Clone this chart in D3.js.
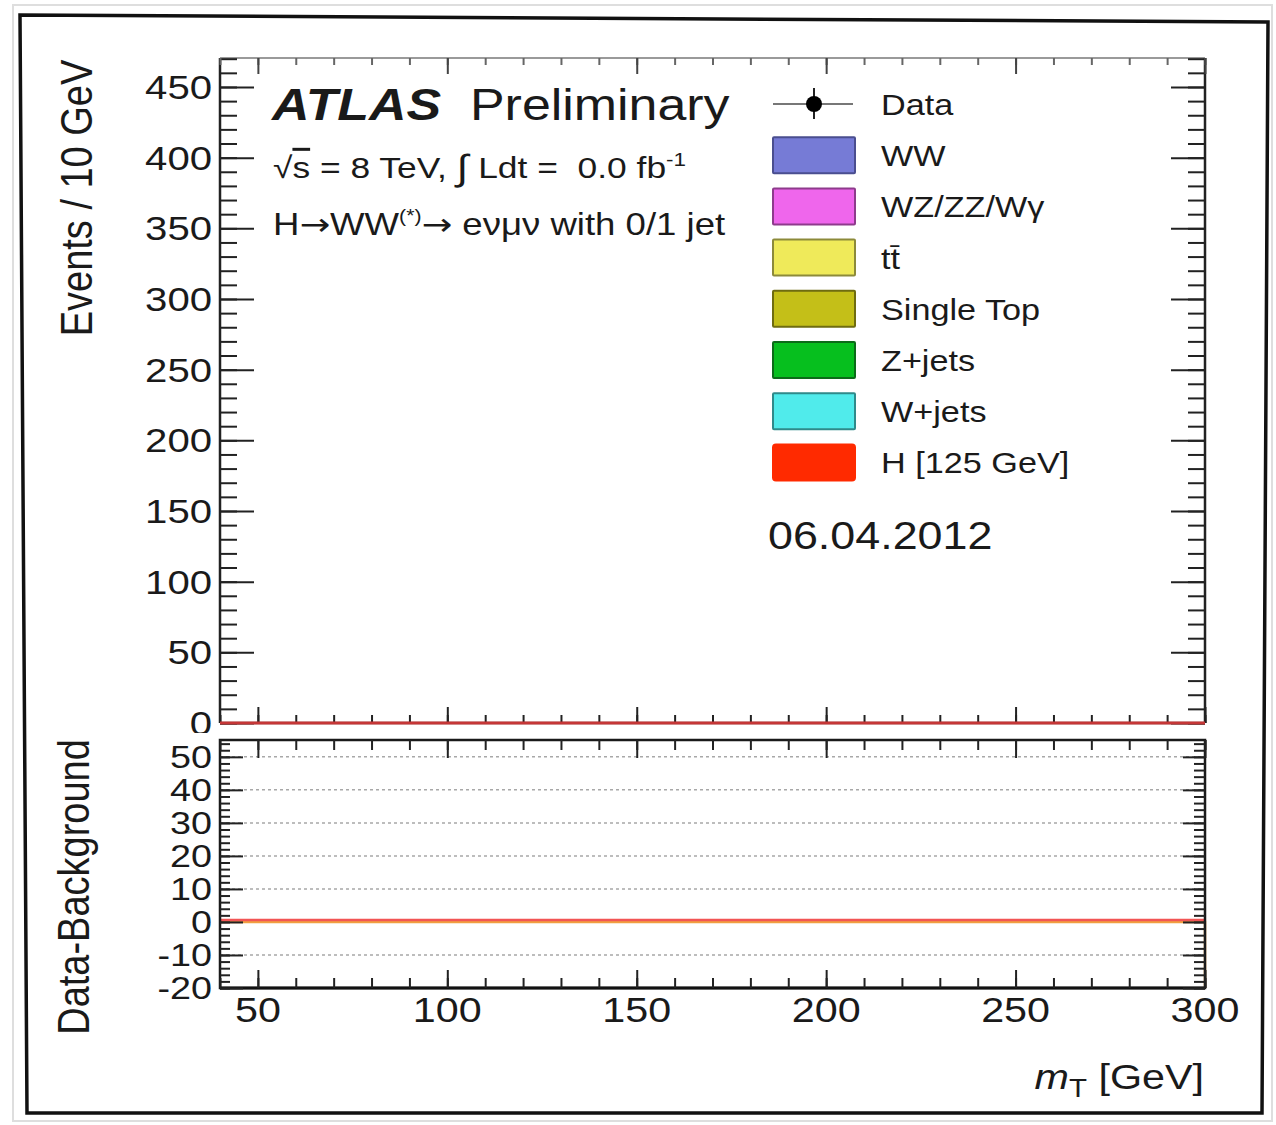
<!DOCTYPE html>
<html>
<head>
<meta charset="utf-8">
<script src="https://cdn.jsdelivr.net/npm/d3@7"></script>
<style>
  html, body { margin: 0; padding: 0; background: #fff; }
  svg { display: block; }
</style>
</head>
<body>
<svg id="chart" width="1276" height="1125"></svg>
<script>
// ---- binning: m_T in 10 GeV bins from 40 to 300 GeV ----
const binEdges = [40, 50, 60, 70, 80, 90, 100, 110, 120, 130, 140, 150, 160, 170, 180, 190, 200, 210, 220, 230, 240, 250, 260, 270, 280, 290, 300];

// ---- per-bin yields (events / 10 GeV), 0.0 fb^-1 ----
const dataCounts   = [0, 0, 0, 0, 0, 0, 0, 0, 0, 0, 0, 0, 0, 0, 0, 0, 0, 0, 0, 0, 0, 0, 0, 0, 0, 0];
const wwYield      = [0, 0, 0, 0, 0, 0, 0, 0, 0, 0, 0, 0, 0, 0, 0, 0, 0, 0, 0, 0, 0, 0, 0, 0, 0, 0];
const dibosonYield = [0, 0, 0, 0, 0, 0, 0, 0, 0, 0, 0, 0, 0, 0, 0, 0, 0, 0, 0, 0, 0, 0, 0, 0, 0, 0];
const ttbarYield   = [0, 0, 0, 0, 0, 0, 0, 0, 0, 0, 0, 0, 0, 0, 0, 0, 0, 0, 0, 0, 0, 0, 0, 0, 0, 0];
const singleTopYield = [0, 0, 0, 0, 0, 0, 0, 0, 0, 0, 0, 0, 0, 0, 0, 0, 0, 0, 0, 0, 0, 0, 0, 0, 0, 0];
const zjetsYield   = [0, 0, 0, 0, 0, 0, 0, 0, 0, 0, 0, 0, 0, 0, 0, 0, 0, 0, 0, 0, 0, 0, 0, 0, 0, 0];
const wjetsYield   = [0, 0, 0, 0, 0, 0, 0, 0, 0, 0, 0, 0, 0, 0, 0, 0, 0, 0, 0, 0, 0, 0, 0, 0, 0, 0];
const higgsYield   = [0, 0, 0, 0, 0, 0, 0, 0, 0, 0, 0, 0, 0, 0, 0, 0, 0, 0, 0, 0, 0, 0, 0, 0, 0, 0];
// data minus background and the background uncertainty for the ratio pad
const dataMinusBkg = [0, 0, 0, 0, 0, 0, 0, 0, 0, 0, 0, 0, 0, 0, 0, 0, 0, 0, 0, 0, 0, 0, 0, 0, 0, 0];
const bkgSyst      = [0, 0, 0, 0, 0, 0, 0, 0, 0, 0, 0, 0, 0, 0, 0, 0, 0, 0, 0, 0, 0, 0, 0, 0, 0, 0];

// ---- legend / process definitions ----
const processKeys   = ["ww", "diboson", "ttbar", "singleTop", "zjets", "wjets", "higgs"];
const processLabels = ["WW", "WZ/ZZ/W\u03b3", "tt\u0304", "Single Top", "Z+jets", "W+jets", "H [125 GeV]"];
const processColors = ["#767bd6", "#ef66ec", "#efea5a", "#c4bf18", "#06bf1e", "#50ebeb", "#ff2a00"];
const processEdges  = ["#4a4e8f", "#8e3b8c", "#8c8a3a", "#6f6c10", "#0b6b18", "#2f8a8a", "#ff2a00"];
const stackOrder    = ["wjets", "zjets", "singleTop", "ttbar", "diboson", "ww", "higgs"];

// tick values
const mainYTicks  = [0, 50, 100, 150, 200, 250, 300, 350, 400, 450];
const ratioYTicks = [-20, -10, 0, 10, 20, 30, 40, 50];
const ratioGrid   = [-10, 10, 20, 30, 40, 50];
const xTicks      = [50, 100, 150, 200, 250, 300];

// ------------------------------------------------------------------
const FONT = "'Liberation Sans', Arial, Helvetica, sans-serif";
const SX = 1.18;   // horizontal stretch of the lettering
const INK = "#1a1a1a";

const svg = d3.select("#chart");

function addText(g, x, y, size, anchor, rot) {
  return g.append("text")
    .attr("transform", `translate(${x},${y}) scale(${SX},1)` + (rot ? ` rotate(${rot})` : ""))
    .attr("font-family", FONT)
    .attr("font-size", size)
    .attr("text-anchor", anchor)
    .attr("fill", INK);
}

// pad geometry
const L = 220, R = 1205;
const mainTop = 58, mainBot = 723;
const ratTop = 740, ratBot = 988;

const x  = d3.scaleLinear().domain([40, 300]).range([L, R]);
const yM = d3.scaleLinear().domain([0, 470.5]).range([mainBot, mainTop]);
const yR = d3.scaleLinear().domain([-20, 55.1]).range([ratBot, ratTop]);

// table of bins
const rows = binEdges.slice(0, -1).map((lo, i) => ({
  lo, hi: binEdges[i + 1],
  ww: wwYield[i], diboson: dibosonYield[i], ttbar: ttbarYield[i],
  singleTop: singleTopYield[i], zjets: zjetsYield[i], wjets: wjetsYield[i],
  higgs: higgsYield[i], data: dataCounts[i],
  diff: dataMinusBkg[i], syst: bkgSyst[i]
}));

// outer canvas frames
svg.append("rect").attr("x", 13).attr("y", 5).attr("width", 1259).attr("height", 1116)
  .attr("fill", "none").attr("stroke", "#dedede").attr("stroke-width", 2);
svg.append("path").attr("d", "M20,15 L1268,22 L1262,1113 L27,1113 Z")
  .attr("fill", "none").attr("stroke", "#111").attr("stroke-width", 3.5);

// ================= main pad =================
const main = svg.append("g");

// stacked histograms
const stacked = d3.stack().keys(stackOrder)(rows);
const stepPts = d => d.flatMap(s => [{ x: s.data.lo, y0: s[0], y1: s[1] }, { x: s.data.hi, y0: s[0], y1: s[1] }]);
const area = d3.area().x(p => x(p.x)).y0(p => yM(p.y0)).y1(p => yM(p.y1));
stacked.forEach(layer => {
  const k = processKeys.indexOf(layer.key);
  main.append("path").attr("d", area(stepPts(layer)))
    .attr("fill", processColors[k]).attr("stroke", "none");
});

// frame of main pad
main.append("line").attr("x1", L).attr("x2", R).attr("y1", mainTop).attr("y2", mainTop)
  .attr("stroke", "#9a9a9a").attr("stroke-width", 2);
main.append("line").attr("x1", L).attr("x2", L).attr("y1", mainTop).attr("y2", mainBot)
  .attr("stroke", "#222").attr("stroke-width", 2.5);
main.append("line").attr("x1", R).attr("x2", R).attr("y1", mainTop).attr("y2", mainBot)
  .attr("stroke", "#222").attr("stroke-width", 2.5);
main.append("line").attr("x1", L).attr("x2", R).attr("y1", mainBot).attr("y2", mainBot)
  .attr("stroke", "#222").attr("stroke-width", 2.5);

// axis ticks (inward)
function ticks(g, axis) {
  g.call(axis);
  g.select(".domain").remove();
  g.selectAll("line").attr("stroke", "#222").attr("stroke-width", 2);
  g.selectAll("text").remove();
}
const minorMainY = d3.range(0, 471, 10);
const minorX = d3.range(40, 301, 10);

ticks(main.append("g").attr("transform", `translate(${L},0)`),
  d3.axisLeft(yM).tickValues(minorMainY).tickSize(-17).tickFormat(""));
ticks(main.append("g").attr("transform", `translate(${L},0)`),
  d3.axisLeft(yM).tickValues(mainYTicks).tickSize(-34).tickFormat(""));
ticks(main.append("g").attr("transform", `translate(${R},0)`),
  d3.axisRight(yM).tickValues(minorMainY).tickSize(-17).tickFormat(""));
ticks(main.append("g").attr("transform", `translate(${R},0)`),
  d3.axisRight(yM).tickValues(mainYTicks).tickSize(-34).tickFormat(""));
ticks(main.append("g").attr("transform", `translate(0,${mainBot})`),
  d3.axisBottom(x).tickValues(minorX).tickSize(-8).tickFormat(""));
ticks(main.append("g").attr("transform", `translate(0,${mainBot})`),
  d3.axisBottom(x).tickValues(xTicks).tickSize(-16).tickFormat(""));
const topMinor = main.append("g").attr("transform", `translate(0,${mainTop})`);
ticks(topMinor, d3.axisTop(x).tickValues(minorX).tickSize(-7).tickFormat(""));
topMinor.selectAll("line").attr("stroke", "#666");
const topMajor = main.append("g").attr("transform", `translate(0,${mainTop})`);
ticks(topMajor, d3.axisTop(x).tickValues(xTicks).tickSize(-16).tickFormat(""));
topMajor.selectAll("line").attr("stroke", "#444");

// top of the stack (Higgs on top) drawn as red outline
const totalTop = stacked[stacked.length - 1];
const stepLine = d3.line().x(p => x(p.x)).y(p => yM(p.y1));
main.append("path").attr("d", stepLine(stepPts(totalTop)))
  .attr("fill", "none").attr("stroke", "#e23a3a").attr("stroke-width", 3).attr("stroke-opacity", 0.85);

// data points (only filled bins)
const pts = rows.filter(r => r.data > 0);
main.selectAll("circle.data").data(pts).join("circle").attr("class", "data")
  .attr("cx", r => x((r.lo + r.hi) / 2)).attr("cy", r => yM(r.data)).attr("r", 7).attr("fill", "#000");

// y labels main
mainYTicks.forEach(v => {
  addText(main, 212, yM(v) + 12, 34, "end").text(v);
});
addText(main, 92, 198, 38, "middle", -90).text("Events / 10 GeV");

// ATLAS label block
const t1 = addText(main, 272, 120, 44, "start");
t1.append("tspan").attr("font-weight", "bold").attr("font-style", "italic").text("ATLAS");
addText(main, 470, 120, 44, "start").text("Preliminary");

const t2 = addText(main, 273, 178, 30, "start").attr("xml:space", "preserve");
t2.append("tspan").text("\u221A");
t2.append("tspan").style("text-decoration", "overline").text("s");
t2.append("tspan").text(" = 8 TeV, ");
t2.append("tspan").attr("font-size", 36).attr("dy", 2).text("\u222B");
t2.append("tspan").attr("dy", -2).text(" Ldt =  0.0 fb");
t2.append("tspan").attr("font-size", 19).attr("dy", -12).text("-1");

const ARROW_FONT = "'DejaVu Sans', sans-serif";
const t3 = addText(main, 273, 235, 31, "start");
t3.append("tspan").text("H");
t3.append("tspan").attr("font-family", ARROW_FONT).attr("font-size", 31).text("\u2192");
t3.append("tspan").text("WW");
t3.append("tspan").attr("font-size", 18).attr("dy", -13).text("(*)");
t3.append("tspan").attr("dy", 13).attr("font-family", ARROW_FONT).attr("font-size", 31).text("\u2192");
t3.append("tspan").text(" e\u03bd\u03bc\u03bd with 0/1 jet");

// legend
const lg = main.append("g");
const legX = 773, legW = 82, legH = 36, legY0 = 104, legStep = 51.2, legTextX = 881;
lg.append("line").attr("x1", legX).attr("x2", legX + 80).attr("y1", legY0).attr("y2", legY0)
  .attr("stroke", "#777").attr("stroke-width", 2);
lg.append("line").attr("x1", legX + 41).attr("x2", legX + 41).attr("y1", legY0 - 16).attr("y2", legY0 + 15)
  .attr("stroke", "#222").attr("stroke-width", 2);
lg.append("circle").attr("cx", legX + 41).attr("cy", legY0).attr("r", 8).attr("fill", "#000");
addText(lg, legTextX, legY0 + 11, 29, "start").text("Data");
processLabels.forEach((lab, i) => {
  const cy = legY0 + legStep * (i + 1);
  lg.append("rect").attr("x", legX).attr("y", cy - legH / 2).attr("width", legW).attr("height", legH)
    .attr("rx", i === processLabels.length - 1 ? 3 : 1)
    .attr("fill", processColors[i]).attr("stroke", processEdges[i]).attr("stroke-width", 2);
  addText(lg, legTextX, cy + 11, 29, "start").text(lab);
});

addText(main, 768, 549, 38, "start").text("06.04.2012");

// ================= ratio pad =================
svg.append("rect").attr("x", 100).attr("y", 733).attr("width", 1150).attr("height", 7).attr("fill", "#fff");
const rat = svg.append("g");

// dotted reference grid
rat.selectAll("line.grid").data(ratioGrid).join("line").attr("class", "grid")
  .attr("x1", L).attr("x2", R).attr("y1", v => yR(v)).attr("y2", v => yR(v))
  .attr("stroke", "#a8a8a8").attr("stroke-width", 1.5).attr("stroke-dasharray", "3,3");

// background-uncertainty outline (orange) and signal expectation (red)
const bandPts = rows.flatMap(r => [{ x: r.lo, y: r.syst }, { x: r.hi, y: r.syst }]);
bandPts.push({ x: binEdges[binEdges.length - 1], y: yR.domain()[0] });
rat.append("path").attr("d", d3.line().x(p => x(p.x)).y(p => yR(p.y))(bandPts))
  .attr("fill", "none").attr("stroke", "#f0a040").attr("stroke-width", 2.5);
const sigPts = rows.flatMap(r => [{ x: r.lo, y: r.higgs }, { x: r.hi, y: r.higgs }]);
rat.append("path").attr("d", d3.line().x(p => x(p.x)).y(p => yR(p.y) - 2)(sigPts))
  .attr("fill", "none").attr("stroke", "#f25555").attr("stroke-width", 2.5);

// data - background points
rat.selectAll("circle.diff").data(rows.filter(r => r.data > 0)).join("circle").attr("class", "diff")
  .attr("cx", r => x((r.lo + r.hi) / 2)).attr("cy", r => yR(r.diff)).attr("r", 7).attr("fill", "#000");

// frame
rat.append("rect").attr("x", L).attr("y", ratTop).attr("width", R - L).attr("height", ratBot - ratTop)
  .attr("fill", "none").attr("stroke", "#1a1a1a").attr("stroke-width", 2.5);
rat.append("line").attr("x1", L).attr("x2", R).attr("y1", ratBot).attr("y2", ratBot)
  .attr("stroke", "#111").attr("stroke-width", 3);

const minorRatY = d3.range(-20, 55, 2);
ticks(rat.append("g").attr("transform", `translate(${L},0)`),
  d3.axisLeft(yR).tickValues(minorRatY).tickSize(-10).tickFormat(""));
ticks(rat.append("g").attr("transform", `translate(${L},0)`),
  d3.axisLeft(yR).tickValues(ratioYTicks).tickSize(-23).tickFormat(""));
ticks(rat.append("g").attr("transform", `translate(${R},0)`),
  d3.axisRight(yR).tickValues(minorRatY).tickSize(-11).tickFormat(""));
ticks(rat.append("g").attr("transform", `translate(${R},0)`),
  d3.axisRight(yR).tickValues(ratioYTicks).tickSize(-22).tickFormat(""));
ticks(rat.append("g").attr("transform", `translate(0,${ratBot})`),
  d3.axisBottom(x).tickValues(minorX).tickSize(-10).tickFormat(""));
ticks(rat.append("g").attr("transform", `translate(0,${ratBot})`),
  d3.axisBottom(x).tickValues(xTicks).tickSize(-18).tickFormat(""));
ticks(rat.append("g").attr("transform", `translate(0,${ratTop})`),
  d3.axisTop(x).tickValues(minorX).tickSize(-10).tickFormat(""));
ticks(rat.append("g").attr("transform", `translate(0,${ratTop})`),
  d3.axisTop(x).tickValues(xTicks).tickSize(-18).tickFormat(""));

ratioYTicks.forEach(v => {
  addText(rat, 212, yR(v) + 11, 32, "end").text(v);
});
xTicks.forEach(v => {
  addText(rat, x(v), 1022, 35, "middle").text(v);
});
addText(rat, 89, 887, 38, "middle", -90).text("Data-Background");

const xt = addText(rat, 1204, 1089, 35, "end");
xt.append("tspan").attr("font-style", "italic").text("m");
xt.append("tspan").attr("font-size", 25).attr("dy", 8).text("T");
xt.append("tspan").attr("dy", -8).text(" [GeV]");
</script>
</body>
</html>
